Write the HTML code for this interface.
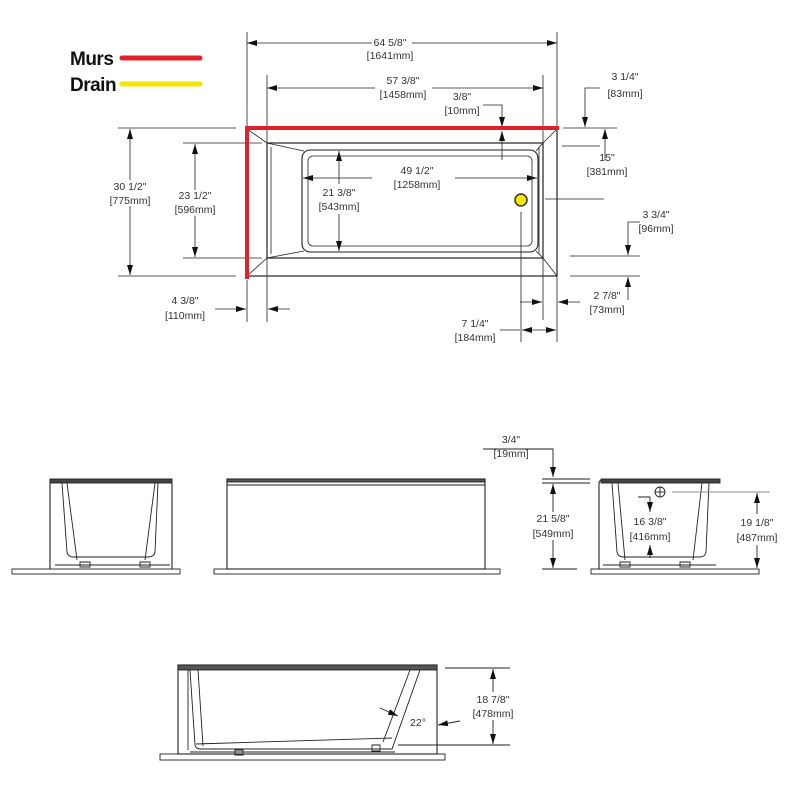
<!DOCTYPE html>
<html><head><meta charset="utf-8"><style>
html,body{margin:0;padding:0;background:#fff;width:800px;height:800px;overflow:hidden}
svg{display:block}
text{font-family:"Liberation Sans",sans-serif;font-size:10.5px;fill:#333;text-anchor:middle}
.b{font-weight:bold;font-size:19px;fill:#111;text-anchor:start;letter-spacing:-0.5px}
</style></head><body>
<svg width="800" height="800" viewBox="0 0 800 800" xmlns="http://www.w3.org/2000/svg">
<defs>
<marker id="a" viewBox="0 0 10 6" refX="10" refY="3" markerWidth="10" markerHeight="6" orient="auto-start-reverse" markerUnits="userSpaceOnUse"><path d="M0,0L10,3L0,6z" fill="#111"/></marker>
</defs>
<!-- legend -->
<text class="b" x="70" y="65">Murs</text>
<line x1="122" y1="58" x2="200" y2="58" stroke="#e0202a" stroke-width="5" stroke-linecap="round"/>
<text class="b" x="70" y="91">Drain</text>
<line x1="122" y1="84" x2="200" y2="84" stroke="#f5e600" stroke-width="5" stroke-linecap="round"/>

<g stroke="#222" fill="none" stroke-width="0.8">
<line x1="247" y1="32" x2="247" y2="128"/><line x1="557" y1="32" x2="557" y2="128"/>
<line x1="267" y1="75" x2="267" y2="146"/><line x1="543" y1="75" x2="543" y2="146"/>
<line x1="247" y1="43" x2="372" y2="43" marker-start="url(#a)"/><line x1="412" y1="43" x2="557" y2="43" marker-end="url(#a)"/>
<line x1="267" y1="88" x2="375" y2="88" marker-start="url(#a)"/><line x1="432" y1="88" x2="543" y2="88" marker-end="url(#a)"/>
<polyline points="483,105 502,105 502,127" marker-end="url(#a)"/>
<line x1="502" y1="160" x2="502" y2="131" marker-end="url(#a)"/>
<polyline points="600,88 585,88 585,127" marker-end="url(#a)"/>
<line x1="563" y1="128" x2="617" y2="128"/><line x1="562" y1="146" x2="600" y2="146"/>
<line x1="605" y1="160" x2="605" y2="129" marker-end="url(#a)"/>
<line x1="545" y1="199" x2="604" y2="199"/>
<polyline points="640,222 628,222 628,255" marker-end="url(#a)"/>
<line x1="570" y1="256" x2="640" y2="256"/><line x1="570" y1="276" x2="640" y2="276"/>
<line x1="628" y1="300" x2="628" y2="277" marker-end="url(#a)"/>
<line x1="118" y1="128" x2="236" y2="128"/><line x1="118" y1="276" x2="236" y2="276"/>
<line x1="130" y1="180" x2="130" y2="129" marker-end="url(#a)"/><line x1="130" y1="206" x2="130" y2="275" marker-end="url(#a)"/>
<line x1="183" y1="143" x2="262" y2="143"/><line x1="183" y1="258" x2="262" y2="258"/>
<line x1="195" y1="190" x2="195" y2="144" marker-end="url(#a)"/><line x1="195" y1="216" x2="195" y2="257" marker-end="url(#a)"/>
<line x1="247" y1="280" x2="247" y2="322"/><line x1="267" y1="258" x2="267" y2="322"/>
<line x1="215" y1="309" x2="246" y2="309" marker-end="url(#a)"/><line x1="290" y1="309" x2="268" y2="309" marker-end="url(#a)"/>
<line x1="521" y1="212" x2="521" y2="342"/><line x1="557" y1="276" x2="557" y2="342"/><line x1="543" y1="258" x2="543" y2="320"/>
<line x1="500" y1="330" x2="520" y2="330"/><line x1="539" y1="330" x2="522" y2="330" marker-end="url(#a)"/><line x1="539" y1="330" x2="556" y2="330" marker-end="url(#a)"/>
<line x1="520" y1="302" x2="542" y2="302" marker-end="url(#a)"/><line x1="580" y1="302" x2="558" y2="302" marker-end="url(#a)"/>
<line x1="372" y1="178" x2="303" y2="178" marker-end="url(#a)"/><line x1="455" y1="178" x2="537" y2="178" marker-end="url(#a)"/>
<line x1="339" y1="184" x2="339" y2="151" marker-end="url(#a)"/><line x1="339" y1="214" x2="339" y2="251" marker-end="url(#a)"/>

<rect x="247" y="129" width="310" height="147" stroke-width="1.2"/>
<rect x="267" y="143" width="276" height="115" stroke-width="1.2"/>
<rect x="302" y="150" width="236" height="102" rx="8" stroke-width="1.1"/>
<rect x="308" y="156" width="224" height="90" rx="5"/>
<line x1="247" y1="129" x2="267" y2="143"/><line x1="557" y1="129" x2="543" y2="143"/>
<line x1="247" y1="276" x2="267" y2="258"/><line x1="557" y1="276" x2="543" y2="258"/>
<line x1="267" y1="143" x2="304" y2="151"/><line x1="267" y1="258" x2="304" y2="251"/>
<line x1="543" y1="143" x2="536" y2="151"/><line x1="543" y1="258" x2="536" y2="251"/>
<line x1="271" y1="147" x2="271" y2="254"/><line x1="539" y1="147" x2="539" y2="254"/>
</g>
<path d="M247,277 L247,128 L557,128" style="fill:none;stroke:#e0202a;stroke-width:4;stroke-linecap:square"/>
<circle cx="521" cy="200" r="6" fill="#f5e600" stroke="#333" stroke-width="1.5"/>

<g fill="#fff" stroke="none">
<rect x="372" y="34" width="38" height="24"/><rect x="376" y="79" width="54" height="24"/>
<rect x="108" y="180" width="46" height="26"/><rect x="172" y="190" width="46" height="26"/>
<rect x="318" y="186" width="44" height="26"/><rect x="380" y="166" width="74" height="24"/>
</g>
<text x="390" y="46">64 5/8"</text><text x="390" y="59">[1641mm]</text>
<text x="403" y="84">57 3/8"</text><text x="403" y="98">[1458mm]</text>
<text x="462" y="100">3/8"</text><text x="462" y="114">[10mm]</text>
<text x="625" y="80">3 1/4"</text><text x="625" y="97">[83mm]</text>
<text x="607" y="161">15"</text><text x="607" y="175">[381mm]</text>
<text x="656" y="218">3 3/4"</text><text x="656" y="232">[96mm]</text>
<text x="130" y="190">30 1/2"</text><text x="130" y="204">[775mm]</text>
<text x="195" y="199">23 1/2"</text><text x="195" y="213">[596mm]</text>
<text x="339" y="196">21 3/8"</text><text x="339" y="210">[543mm]</text>
<text x="417" y="174">49 1/2"</text><text x="417" y="188">[1258mm]</text>
<text x="185" y="304">4 3/8"</text><text x="185" y="319">[110mm]</text>
<text x="607" y="299">2 7/8"</text><text x="607" y="313">[73mm]</text>
<text x="475" y="327">7 1/4"</text><text x="475" y="341">[184mm]</text>

<g stroke="#222" fill="none" stroke-width="0.9">
<rect x="12" y="569" width="168" height="5"/>
<path d="M50,569V480H169Q172,480 172,484V569" stroke-width="1.1"/>
<rect x="50" y="479" width="122" height="4" fill="#444"/>
<path d="M62,483L67,552Q68,557 74,557H148Q154,557 155,552L158,483"/>
<path d="M67,483L77,560M155,483L145,560"/>
<path d="M55,565H170M80,562h10v5h-10zM140,562h10v5h-10z"/>
<rect x="214" y="569" width="286" height="5"/>
<rect x="227" y="479" width="258" height="90" stroke-width="1.1"/>
<line x1="227" y1="485" x2="485" y2="485"/><rect x="227" y="479" width="258" height="3" fill="#555"/>
<polyline points="483,449 553,449 553,477" marker-end="url(#a)"/>
<line x1="542" y1="479" x2="590" y2="479"/><line x1="542" y1="483" x2="590" y2="483"/>
<line x1="553" y1="512" x2="553" y2="484" marker-end="url(#a)"/><line x1="553" y1="540" x2="553" y2="568" marker-end="url(#a)"/>
<line x1="542" y1="569" x2="577" y2="569"/>
<rect x="591" y="569" width="168" height="5"/>
<path d="M599,569V483Q599,480 603,480H720" stroke-width="1.1"/>
<rect x="601" y="479" width="119" height="4" fill="#444"/>
<path d="M612,483L617,552Q618,557 624,557H700Q705,557 706,552L709,483"/>
<path d="M618,483L625,560M702,483L693,560M603,565H716M620,562h10v5h-10zM680,562h10v5h-10z"/>
<circle cx="660" cy="492" r="5"/><line x1="655" y1="492" x2="665" y2="492"/><line x1="660" y1="487" x2="660" y2="497"/>
<line x1="672" y1="492" x2="770" y2="492" stroke="#888"/>
<polyline points="638,497 650,497 650,512" marker-end="url(#a)"/>
<line x1="650" y1="545" x2="650" y2="558" marker-start="url(#a)"/>
<line x1="757" y1="514" x2="757" y2="493" marker-end="url(#a)"/><line x1="757" y1="545" x2="757" y2="568" marker-end="url(#a)"/>
<rect x="160" y="754" width="285" height="6"/>
<rect x="178" y="665" width="259" height="89" stroke-width="1.1"/>
<rect x="178" y="665" width="259" height="5" fill="#555"/>
<line x1="188" y1="670" x2="188" y2="750"/>
<path d="M190,670L195,745Q196,749 200,749H392L420,670"/>
<path d="M198,670L203,746M410,670L383,742M196,744L392,738"/>
<path d="M190,752H395M235,750h8v5h-8zM372,745h8v6h-8z"/>
<line x1="445" y1="668" x2="510" y2="668"/><line x1="398" y1="745" x2="510" y2="745"/>
<line x1="493" y1="692" x2="493" y2="669" marker-end="url(#a)"/><line x1="493" y1="720" x2="493" y2="744" marker-end="url(#a)"/>
<line x1="460" y1="721" x2="438" y2="725" marker-end="url(#a)"/>
<line x1="380" y1="708" x2="398" y2="716" marker-end="url(#a)"/>
</g>
<g fill="#fff"><rect x="533" y="512" width="42" height="28"/><rect x="628" y="514" width="44" height="28"/><rect x="736" y="514" width="44" height="30"/><rect x="470" y="692" width="46" height="28"/></g>
<text x="511" y="443">3/4"</text><text x="511" y="457">[19mm]</text>
<text x="553" y="522">21 5/8"</text><text x="553" y="537">[549mm]</text>
<text x="650" y="525">16 3/8"</text><text x="650" y="540">[416mm]</text>
<text x="757" y="526">19 1/8"</text><text x="757" y="541">[487mm]</text>
<text x="493" y="703">18 7/8"</text><text x="493" y="717">[478mm]</text>
<text x="418" y="726">22°</text>
</svg>
</body></html>
